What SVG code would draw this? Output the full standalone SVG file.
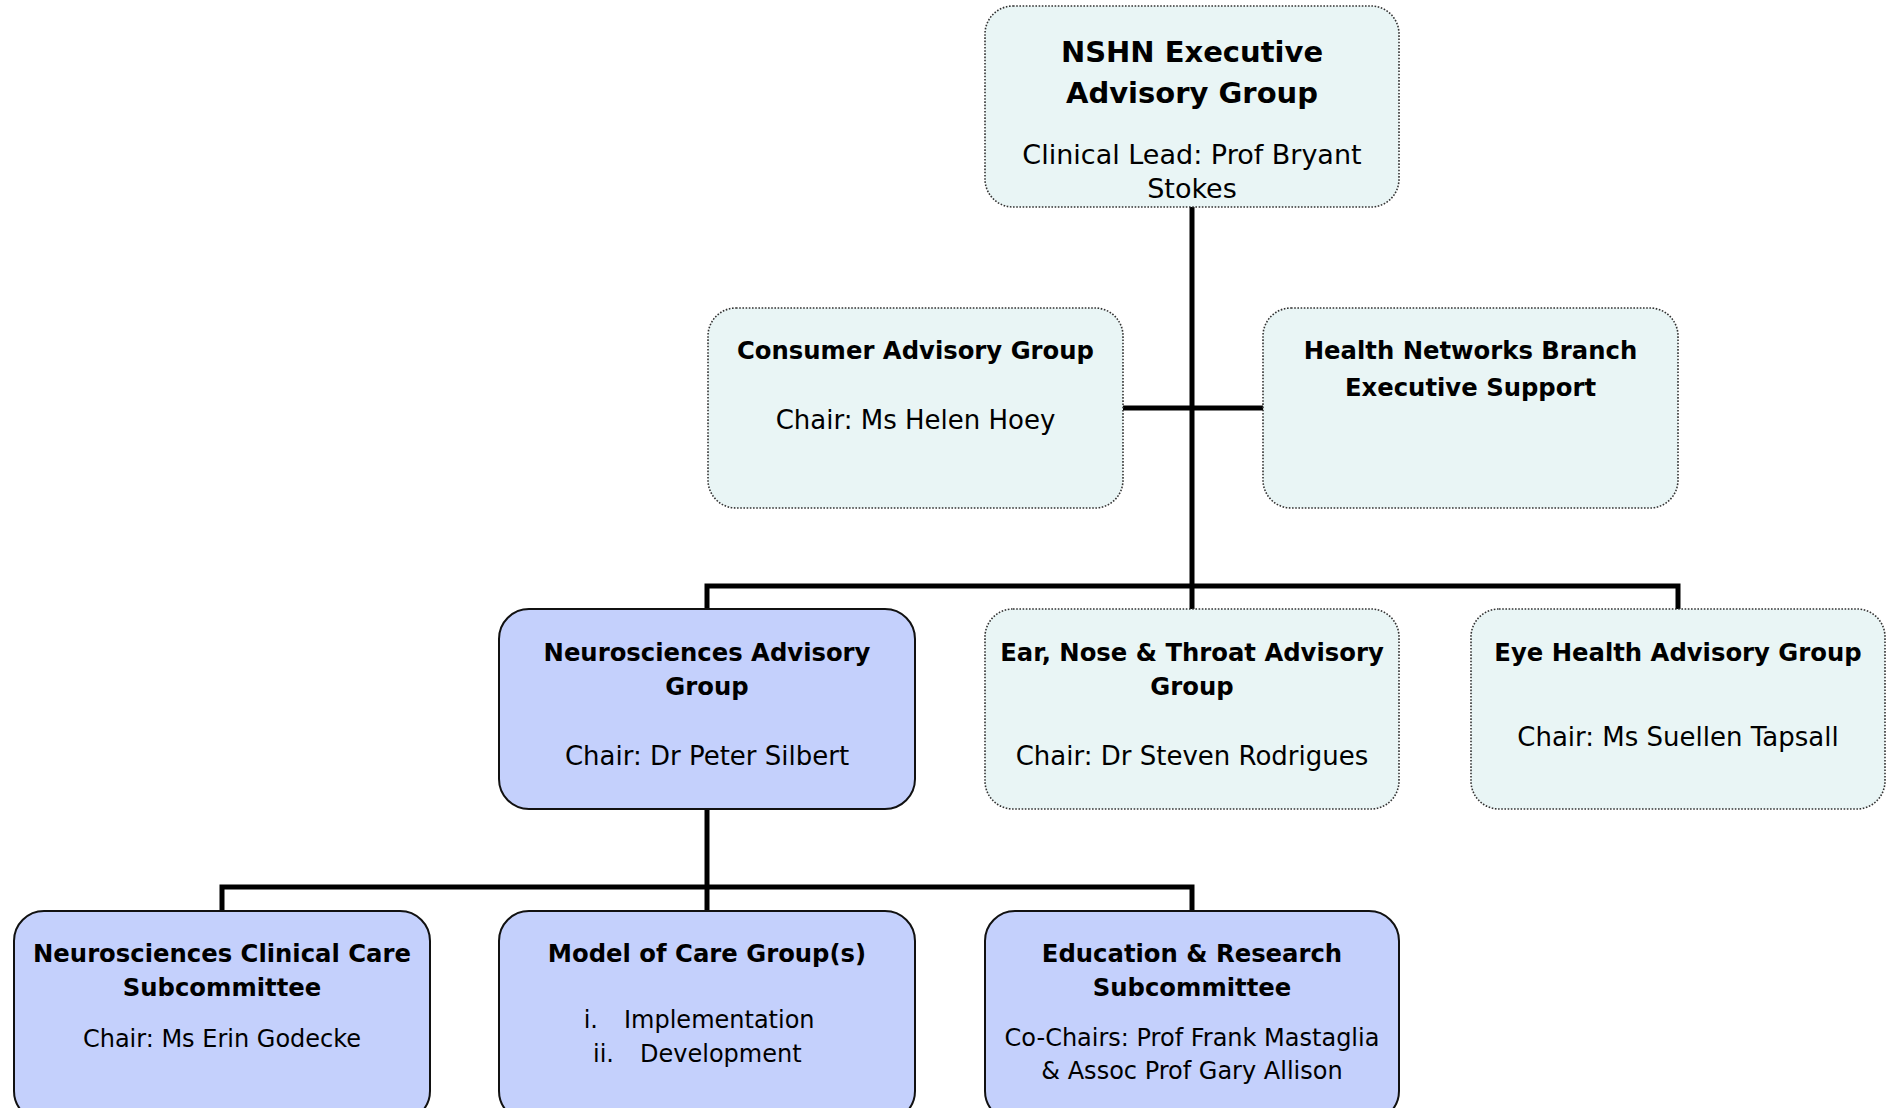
<svg xmlns="http://www.w3.org/2000/svg" width="1887" height="1108" viewBox="0 0 1887 1108">
<style>
.pale{fill:#E9F5F5;stroke:#333;stroke-width:1.6;stroke-dasharray:1.6 1.6}
.blue{fill:#C4D0FC;stroke:#111;stroke-width:2}
.conn{fill:none;stroke:#000;stroke-width:5;stroke-linejoin:miter}
text{font-family:"DejaVu Sans","Liberation Sans",sans-serif;fill:#000;text-anchor:middle}
.h{font-weight:bold;font-size:24.3px}
.c{font-size:26px}
.s{font-size:24px}
.t{font-weight:bold;font-size:29px}
.tc{font-size:27px}
.n{text-anchor:end}
.w{text-anchor:start}
</style>
<rect width="1887" height="1108" fill="#fff"/>
<g id="connectors">
<path class="conn" d="M1192 207 V609"/>
<path class="conn" d="M1123 408 H1263"/>
<path class="conn" d="M707 609 V586 H1678 V609"/>
<path class="conn" d="M707 809 V911"/>
<path class="conn" d="M222 911 V887 H1192 V911"/>
</g>
<g id="nshn-executive">
<rect class="pale" x="985" y="6" width="414" height="201" rx="28"/>
<text class="t" x="1192" y="62">NSHN Executive</text>
<text class="t" x="1192" y="103">Advisory Group</text>
<text class="tc" x="1192" y="164">Clinical Lead: Prof Bryant</text>
<text class="tc" x="1192" y="198">Stokes</text>
</g>
<g id="consumer">
<rect class="pale" x="708" y="308" width="415" height="200" rx="28"/>
<text class="h" x="915.5" y="359">Consumer Advisory Group</text>
<text class="c" x="915.5" y="429">Chair: Ms Helen Hoey</text>
</g>
<g id="health-networks">
<rect class="pale" x="1263" y="308" width="415" height="200" rx="28"/>
<text class="h" x="1470.5" y="359">Health Networks Branch</text>
<text class="h" x="1470.5" y="396">Executive Support</text>
</g>
<g id="neurosciences">
<rect class="blue" x="499" y="609" width="416" height="200" rx="30"/>
<text class="h" x="707" y="661">Neurosciences Advisory</text>
<text class="h" x="707" y="695">Group</text>
<text class="c" x="707" y="765">Chair: Dr Peter Silbert</text>
</g>
<g id="ent">
<rect class="pale" x="985" y="609" width="414" height="200" rx="28"/>
<text class="h" x="1192" y="661">Ear, Nose &amp; Throat Advisory</text>
<text class="h" x="1192" y="695">Group</text>
<text class="c" x="1192" y="765">Chair: Dr Steven Rodrigues</text>
</g>
<g id="eye-health">
<rect class="pale" x="1471" y="609" width="414" height="200" rx="28"/>
<text class="h" x="1678" y="661">Eye Health Advisory Group</text>
<text class="c" x="1678" y="746">Chair: Ms Suellen Tapsall</text>
</g>
<g id="clinical-care">
<rect class="blue" x="14" y="911" width="416" height="210" rx="30"/>
<text class="h" x="222" y="962">Neurosciences Clinical Care</text>
<text class="h" x="222" y="996">Subcommittee</text>
<text class="s" x="222" y="1047">Chair: Ms Erin Godecke</text>
</g>
<g id="model-of-care">
<rect class="blue" x="499" y="911" width="416" height="210" rx="30"/>
<text class="h" x="707" y="962">Model of Care Group(s)</text>
<text class="s n" x="598" y="1028">i.</text>
<text class="s w" x="624" y="1028">Implementation</text>
<text class="s n" x="614" y="1062">ii.</text>
<text class="s w" x="640" y="1062">Development</text>
</g>
<g id="education-research">
<rect class="blue" x="985" y="911" width="414" height="210" rx="30"/>
<text class="h" x="1192" y="962">Education &amp; Research</text>
<text class="h" x="1192" y="996">Subcommittee</text>
<text class="s" x="1192" y="1046">Co-Chairs: Prof Frank Mastaglia</text>
<text class="s" x="1192" y="1079">&amp; Assoc Prof Gary Allison</text>
</g>
</svg>
